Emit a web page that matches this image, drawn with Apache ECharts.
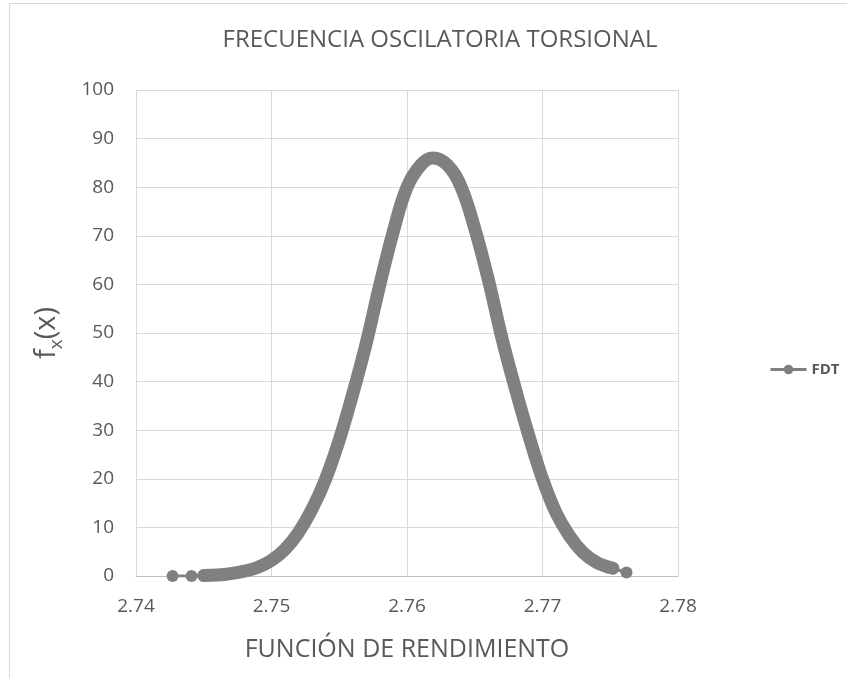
<!DOCTYPE html>
<html>
<head>
<meta charset="utf-8">
<script src="https://cdn.jsdelivr.net/npm/echarts@6/dist/echarts.min.js"></script>
<style>
html,body{margin:0;padding:0;background:#fff;}
#chart{width:847px;height:678px;}
</style>
</head>
<body>
<div id="chart"></div>
<script>
// Data
var xValues = [2.7427, 2.7441, 2.7450, 2.7460, 2.7470, 2.7480, 2.7490, 2.7500, 2.7510, 2.7520,
  2.7530, 2.7540, 2.7550, 2.7560, 2.7570, 2.7580, 2.7590, 2.7600, 2.7610, 2.7619,
  2.7630, 2.7640, 2.7650, 2.7660, 2.7670, 2.7680, 2.7690, 2.7700, 2.7710, 2.7720,
  2.7730, 2.7740, 2.7752, 2.7762];
var fdtValues = [0.0, 0.0, 0.1, 0.2, 0.5, 1.0, 1.8, 3.2, 5.5, 9.0,
  13.8, 20.0, 28.0, 37.5, 48.0, 60.0, 71.0, 80.0, 84.5, 86.0,
  84.5, 80.0, 71.5, 61.0, 49.0, 38.5, 28.8, 20.0, 13.0, 8.2,
  4.8, 2.8, 1.6, 0.7];
var xTicks = [2.74, 2.75, 2.76, 2.77, 2.78];
var yTicks = [0, 10, 20, 30, 40, 50, 60, 70, 80, 90, 100];
var seriesName = 'FDT';
var titleText = 'FRECUENCIA OSCILATORIA TORSIONAL';
var xAxisTitle = 'FUNCIÓN DE RENDIMIENTO';

var points = xValues.map(function (x, i) { return [x, fdtValues[i]]; });
var densePart = points.slice(2, points.length - 1);

var textColor = '#595959';
var markColor = '#808080';
var fontFam = '"Open Sans", "Noto Sans", sans-serif';

var chart = echarts.init(document.getElementById('chart'), null, {renderer: 'canvas'});
chart.setOption({
  backgroundColor: '#ffffff',
  animation: false,
  title: {
    text: titleText,
    left: 435, top: 23, textAlign: 'center',
    textStyle: {color: textColor, fontSize: 24, fontWeight: 'normal', fontFamily: fontFam}
  },
  legend: {
    orient: 'vertical',
    left: 764, top: 357,
    itemWidth: 36, itemHeight: 12, itemGap: 5,
    data: [seriesName],
    textStyle: {color: textColor, fontSize: 15, fontWeight: 'bold', fontFamily: fontFam},
    itemStyle: {color: markColor},
    lineStyle: {color: markColor, width: 3}
  },
  grid: {left: 136, right: 169, top: 90, bottom: 102},
  xAxis: {
    type: 'value',
    min: xTicks[0], max: xTicks[xTicks.length - 1], interval: 0.01,
    name: xAxisTitle,
    nameLocation: 'middle', nameGap: 61,
    nameTextStyle: {color: textColor, fontSize: 25, fontFamily: fontFam},
    axisLine: {show: true, lineStyle: {color: '#bfbfbf', width: 1}},
    axisTick: {show: false},
    axisLabel: {color: textColor, fontSize: 19, margin: 21, fontFamily: fontFam,
      formatter: function (v) { return v.toFixed(2); }},
    splitLine: {show: true, lineStyle: {color: '#d9d9d9', width: 1}}
  },
  yAxis: {
    type: 'value',
    min: yTicks[0], max: yTicks[yTicks.length - 1], interval: 10,
    name: '{f|f}{s|x}{f|(x)}',
    nameLocation: 'middle', nameGap: 70, nameRotate: 90,
    nameTextStyle: {
      color: textColor, fontFamily: fontFam,
      rich: {
        f: {fontSize: 29, color: textColor, fontFamily: fontFam},
        s: {fontSize: 19, color: textColor, fontFamily: fontFam, padding: [19, 0, 0, 0]}
      }
    },
    axisLine: {show: false},
    axisTick: {show: false},
    axisLabel: {color: textColor, fontSize: 19, margin: 22, fontFamily: fontFam},
    splitLine: {show: true, lineStyle: {color: '#d9d9d9', width: 1}}
  },
  graphic: [{
    type: 'rect', silent: true, z: -10,
    shape: {x: 9.5, y: 3.5, width: 860, height: 700},
    style: {fill: 'none', stroke: '#d9d9d9', lineWidth: 1}
  }],
  series: [{
    name: seriesName,
    type: 'line',
    data: points,
    smooth: 0.4,
    symbol: 'circle',
    symbolSize: 12,
    showSymbol: true,
    itemStyle: {color: markColor},
    lineStyle: {color: markColor, width: 3},
    z: 3
  }, {
    name: seriesName + ' band',
    type: 'line',
    data: densePart,
    smooth: 0.4,
    showSymbol: false,
    symbol: 'none',
    lineStyle: {color: markColor, width: 13, cap: 'round', join: 'round'},
    z: 2,
    silent: true
  }]
});
</script>
</body>
</html>
